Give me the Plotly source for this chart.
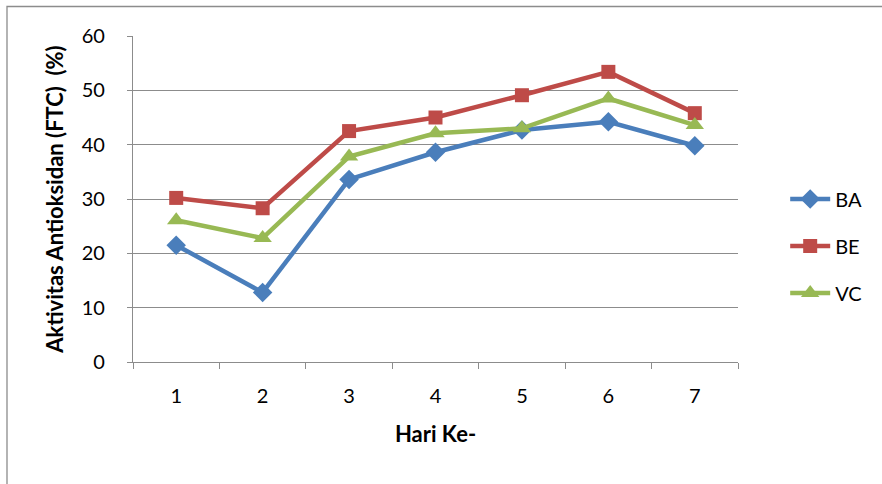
import plotly.graph_objects as go

# Days of observation
days = ["1", "2", "3", "4", "5", "6", "7"]

# Antioxidant activity (FTC method), %
ba = [21.5, 12.8, 33.6, 38.6, 42.7, 44.2, 39.8]
be = [30.2, 28.3, 42.5, 45.0, 49.1, 53.4, 45.8]
vc = [26.1, 22.8, 37.8, 42.1, 43.0, 48.5, 43.6]

series = [
    ("BA", ba, "#4a7ebb", "diamond", 15),
    ("BE", be, "#be4b48", "square", 14),
    ("VC", vc, "#98b954", "triangle-up", 16),
]

FONT = "Lato, Carlito, Calibri, sans-serif"
GRID = "#8c8c8c"

fig = go.Figure()
for i, (name, vals, color, symbol, size) in enumerate(series):
    fig.add_trace(go.Scatter(
        x=days, y=vals, name=name, mode="lines+markers",
        line=dict(color=color, width=4.5),
        marker=dict(symbol=symbol, size=size, color=color,
                    line=dict(width=0)),
        legendgroup=f"g{i}",
    ))

W, H = 882, 484
L, R, T, B = 133, 144, 36, 122

fig.update_layout(
    width=W, height=H,
    margin=dict(l=L, r=R, t=T, b=B, autoexpand=False),
    paper_bgcolor="white", plot_bgcolor="white",
    font=dict(family=FONT, size=20, color="#000000"),
    showlegend=True,
    legend=dict(
        x=1.078, xanchor="left", y=0.356, yanchor="middle",
        font=dict(family=FONT, size=20),
        traceorder="grouped", tracegroupgap=18,
        itemwidth=40, bgcolor="rgba(0,0,0,0)",
    ),
    xaxis=dict(
        type="category", range=[-0.5, 6.5],
        tickson="boundaries", ticks="outside", ticklen=6,
        tickcolor=GRID, tickwidth=1.3,
        showline=True, linecolor=GRID, linewidth=1.3,
        showgrid=False, zeroline=False,
        tickfont=dict(family=FONT, size=20),
        ticklabelstandoff=16,
        title=dict(text="<b>Hari Ke-</b>", font=dict(family=FONT, size=22),
                   standoff=20),
    ),
    yaxis=dict(
        range=[0, 60], dtick=10, tick0=0,
        ticks="outside", ticklen=5, tickcolor=GRID, tickwidth=1.3,
        showline=True, linecolor=GRID, linewidth=1.3,
        showgrid=True, gridcolor=GRID, gridwidth=1.3,
        zeroline=False,
        tickfont=dict(family=FONT, size=20),
        ticklabelstandoff=18,
        title=dict(text="<b>Aktivitas Antioksidan (FTC)\u00a0\u00a0(%)</b>",
                   font=dict(family=FONT, size=22), standoff=11),
    ),
)

# Outer chart-area frame
fig.add_shape(
    type="rect", xref="paper", yref="paper",
    x0=(7 - L) / (W - L - R), x1=(W + 20 - L) / (W - L - R),
    y0=-(B + 20) / (H - T - B), y1=1 + (T - 6.5) / (H - T - B),
    line=dict(color="#8c8c8c", width=1.3), layer="below",
)

fig.write_html("out.html")
